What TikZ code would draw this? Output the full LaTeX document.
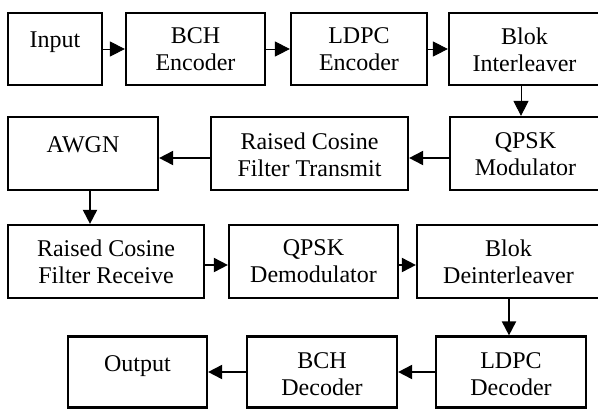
\documentclass[tikz,border=0pt]{standalone}
\usepackage{fontspec}
\setmainfont{Liberation Serif}
\usetikzlibrary{arrows.meta,calc}
\begin{document}
\begin{tikzpicture}[x=1pt,y=-1pt,
  blk/.style={draw, line width=2.2pt, inner sep=0pt},
  lbl/.style={font=\fontsize{24}{27}\selectfont, align=center, inner sep=0pt,
              anchor=north, execute at begin node=\strut},
  arrthin/.style={line width=0.9pt, -{Triangle[length=15pt,width=15pt]}},
  arrthick/.style={line width=1.9pt, -{Triangle[length=14pt,width=14pt]}}]
\useasboundingbox (0,0) rectangle (598,408);

% row 1: transmitter coding chain
\node[blk, minimum width=94pt,  minimum height=72pt] (in)    at (55,49)    {};
\node[blk, minimum width=139pt, minimum height=72pt] (bche)  at (195.5,49) {};
\node[blk, minimum width=136pt, minimum height=72pt] (ldpce) at (359,49)   {};
\node[blk, minimum width=151pt, minimum height=72pt] (intl)  at (524.5,49) {};
% row 2: modulation and channel
\node[blk, minimum width=150pt, minimum height=73pt] (awgn)  at (83,153.5)    {};
\node[blk, minimum width=197pt, minimum height=73pt] (rcft)  at (309.5,153.5) {};
\node[blk, minimum width=151pt, minimum height=73pt] (qmod)  at (525.5,153.5) {};
% row 3: receiver front end
\node[blk, minimum width=196pt, minimum height=73pt] (rcfr)  at (106,261.5)   {};
\node[blk, minimum width=169pt, minimum height=73pt] (qdem)  at (313.5,261.5) {};
\node[blk, minimum width=183pt, minimum height=73pt] (deint) at (508.5,261.5) {};
% row 4: decoding chain
\node[blk, minimum width=139pt, minimum height=71pt] (out)   at (137.5,372) {};
\node[blk, minimum width=150pt, minimum height=71pt] (bchd)  at (322,372)   {};
\node[blk, minimum width=150pt, minimum height=71pt] (ldpcd) at (511,372)   {};

% block labels
\node[lbl] at ($(in.north)+(0,16)$)    {Input};
\node[lbl] at ($(bche.north)+(0,16)$)  {BCH\\Encoder};
\node[lbl] at ($(ldpce.north)+(0,16)$) {LDPC\\Encoder};
\node[lbl] at ($(intl.north)+(0,16)$)  {Blok\\Interleaver};
\node[lbl] at ($(awgn.north)+(0,17)$)  {AWGN};
\node[lbl] at ($(rcft.north)+(0,17)$)  {Raised Cosine\\Filter Transmit};
\node[lbl] at ($(qmod.north)+(0,17)$)  {QPSK\\Modulator};
\node[lbl] at ($(rcfr.north)+(0,16)$)  {Raised Cosine\\Filter Receive};
\node[lbl] at ($(qdem.north)+(0,16)$)  {QPSK\\Demodulator};
\node[lbl] at ($(deint.north)+(0,16)$) {Blok\\Deinterleaver};
\node[lbl] at ($(out.north)+(0,17)$)   {Output};
\node[lbl] at ($(bchd.north)+(0,17)$)  {BCH\\Decoder};
\node[lbl] at ($(ldpcd.north)+(0,17)$) {LDPC\\Decoder};

% connector guide positions
\coordinate (r2) at (0,158);
\coordinate (r3) at (0,265);
\coordinate (v1) at (521,0);
\coordinate (v2) at (90,0);
\coordinate (v3) at (509,0);

% connectors
\draw[arrthin] (in) -- (bche);
\draw[arrthin] (bche) -- (ldpce);
\draw[arrthin] (ldpce) -- (intl);
\draw[arrthin] (intl.south -| v1) -- (qmod.north -| v1);
\draw[arrthick] (qmod.west |- r2) -- (rcft.east |- r2);
\draw[arrthick] (rcft.west |- r2) -- (awgn.east |- r2);
\draw[arrthick] (awgn.south -| v2) -- (rcfr.north -| v2);
\draw[arrthick] (rcfr.east |- r3) -- (qdem.west |- r3);
\draw[arrthick] (qdem.east |- r3) -- (deint.west |- r3);
\draw[arrthick] (deint.south -| v3) -- (ldpcd.north -| v3);
\draw[arrthick] (ldpcd) -- (bchd);
\draw[arrthick] (bchd) -- (out);
\end{tikzpicture}
\end{document}
